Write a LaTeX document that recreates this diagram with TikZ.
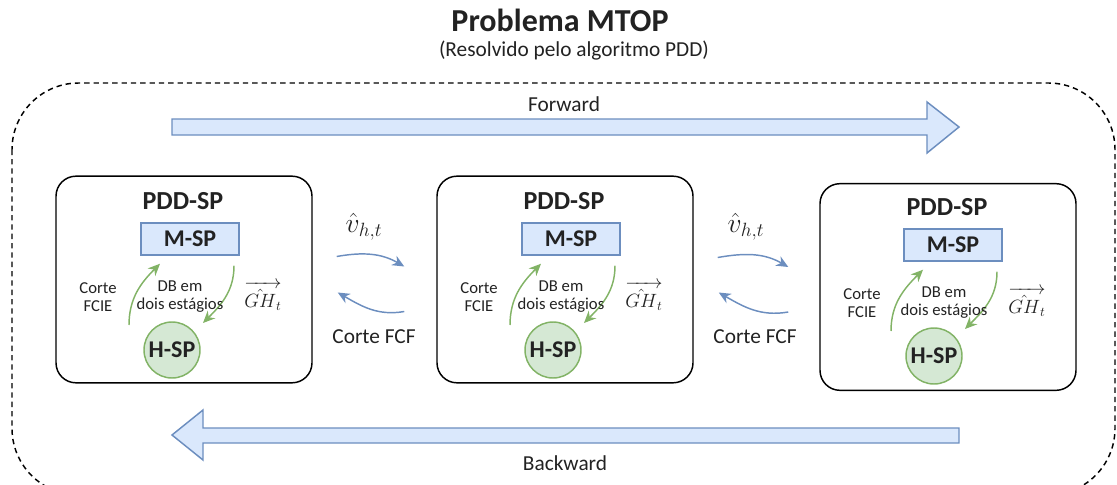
\documentclass[tikz,border=0pt]{standalone}
\usepackage{amsmath}
\usepackage{amssymb}
\usepackage{fontspec}
\setmainfont{Carlito}
\usepackage{tikz}
\usetikzlibrary{arrows.meta}

\definecolor{boxblue}{HTML}{DAE8FC}
\definecolor{lineblue}{HTML}{6C8EBF}
\definecolor{boxgreen}{HTML}{D5E8D4}
\definecolor{linegreen}{HTML}{82B366}
\definecolor{textgray}{HTML}{222222}

\tikzset{
  pddbox/.style={draw, line width=1.1pt, rounded corners=15pt, minimum width=192pt, minimum height=155pt},
  pddtitle/.style={font=\fontsize{19.5}{22}\selectfont\bfseries},
  msp/.style={draw=lineblue, fill=boxblue, line width=1.1pt, minimum width=73.5pt, minimum height=24pt, font=\fontsize{18}{20}\selectfont\bfseries},
  hsp/.style={draw=linegreen, fill=boxgreen, line width=1.1pt, circle, minimum size=42pt, inner sep=0pt, font=\fontsize{18}{20}\selectfont\bfseries},
  small/.style={align=center, font=\fontsize{12.5}{13.5}\selectfont},
  mid/.style={font=\fontsize{16}{18}\selectfont},
  greenarrow/.style={draw=linegreen, line width=1.1pt, -{Stealth[length=9pt, width=8pt]}},
  bluearrow/.style={draw=lineblue, line width=1.1pt, -{Stealth[length=9pt, width=8pt]}},
  bigarrow/.style={draw=lineblue, fill=boxblue, line width=1.1pt, line join=miter}
}

\begin{document}
\begin{tikzpicture}[x=0.75pt, y=-0.75pt, every node/.style={text=textgray}]
                \useasboundingbox (0,0) rectangle (1117,485);
                \draw [dashed, dash pattern=on 4pt off 3pt, line width=1.1pt, rounded corners=50pt] (12,83) rectangle (1115,495);
                \node [font=\fontsize{24}{28}\selectfont\bfseries] (title) at (560,20) {Problema MTOP};
                \node [mid] (subtitle) at (574,51) {(Resolvido pelo algoritmo PDD)};
                % forward / backward
                \path [bigarrow] (172,119)--(927,119)--(927,102)--(959,127)--(927,153)--(927,135)--(172,135)--cycle;
                \node [mid] (fwd) at (564,104) {Forward};
                \path [bigarrow] (959,428)--(203,428)--(203,410)--(172,435)--(203,460)--(203,443)--(959,443)--cycle;
                \node [mid] (bwd) at (565,463) {Backward};
                % first stage
                \node [pddbox] (b1) at (184,279.5) {};
                \node [pddtitle] (p1) at (183,201) {PDD-SP};
                \node [msp] (m1) at (190,239) {M-SP};
                \node [hsp] (h1) at (172,350) {H-SP};
                \draw [greenarrow] ([shift={(-43,-25)}]h1.center) to[out=90,in=225] ([shift={(-30,8)}]m1.south);
                \draw [greenarrow] ([shift={(44,10)}]m1.south) to[out=-90,in=45] ([shift={(31,-27)}]h1.center);
                \node [small] (c1) at (98,297) {Corte\\FCIE};
                \node [small] (d1) at (180,297) {DB em\\dois estágios};
                \node [small, font=\fontsize{14}{16}\selectfont] (g1) at (263,296) {$\overrightarrow{\hat{GH}_t}$};
                % second stage
                \node [pddbox] (b2) at (565,279.5) {};
                \node [pddtitle] (p2) at (564,201) {PDD-SP};
                \node [msp] (m2) at (571,239) {M-SP};
                \node [hsp] (h2) at (553,350) {H-SP};
                \draw [greenarrow] ([shift={(-43,-25)}]h2.center) to[out=90,in=225] ([shift={(-30,8)}]m2.south);
                \draw [greenarrow] ([shift={(44,10)}]m2.south) to[out=-90,in=45] ([shift={(31,-27)}]h2.center);
                \node [small] (c2) at (479,297) {Corte\\FCIE};
                \node [small] (d2) at (561,297) {DB em\\dois estágios};
                \node [small, font=\fontsize{14}{16}\selectfont] (g2) at (644,296) {$\overrightarrow{\hat{GH}_t}$};
                % third stage
                \node [pddbox] (b3) at (948,287) {};
                \node [pddtitle] (p3) at (947,207) {PDD-SP};
                \node [msp] (m3) at (953,245) {M-SP};
                \node [hsp] (h3) at (934,356) {H-SP};
                \draw [greenarrow] ([shift={(-43,-25)}]h3.center) to[out=90,in=225] ([shift={(-30,8)}]m3.south);
                \draw [greenarrow] ([shift={(44,10)}]m3.south) to[out=-90,in=45] ([shift={(31,-27)}]h3.center);
                \node [small] (c3) at (862,303) {Corte\\FCIE};
                \node [small] (d3) at (944,303) {DB em\\dois estágios};
                \node [small, font=\fontsize{14}{16}\selectfont] (g3) at (1027,302) {$\overrightarrow{\hat{GH}_t}$};
                % between stages
                \draw [bluearrow] ([shift={(24,-23)}]b1.east) to[out=10,in=150] ([shift={(-32,-13)}]b2.west);
                \draw [bluearrow] ([shift={(-32,32)}]b2.west) to[out=190,in=-30] ([shift={(25,13)}]b1.east);
                \node [font=\fontsize{22}{26}\selectfont] (v1) at (364,227) {$\hat{v}_{h,t}$};
                \node [mid] (f1) at (374,337) {Corte FCF};
                \draw [bluearrow] ([shift={(24,-22)}]b2.east) to[out=10,in=150] ([shift={(-31,-20)}]b3.west);
                \draw [bluearrow] ([shift={(-31,25)}]b3.west) to[out=190,in=-30] ([shift={(25,13)}]b2.east);
                \node [font=\fontsize{22}{26}\selectfont] (v2) at (746,227) {$\hat{v}_{h,t}$};
                \node [mid] (f2) at (755,337) {Corte FCF};
            \end{tikzpicture}
\end{document}
